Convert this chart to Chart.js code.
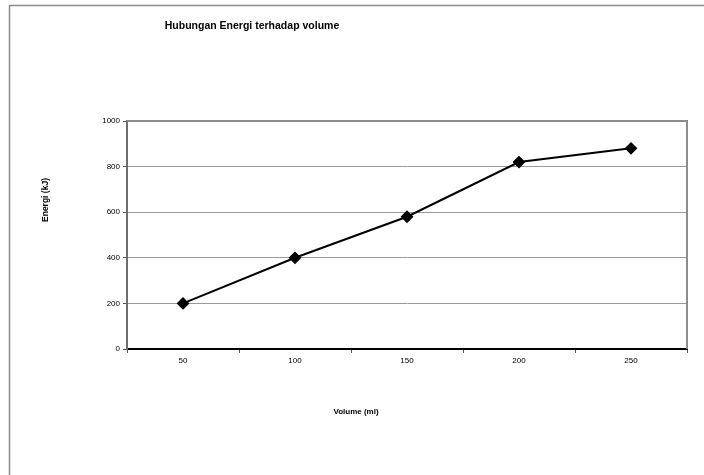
<!DOCTYPE html>
<html>
<head>
<meta charset="utf-8">
<script src="https://cdn.jsdelivr.net/npm/chart.js@4/dist/chart.umd.min.js"></script>
<style>
html,body{margin:0;padding:0;background:#fff;}
#wrap{width:704px;height:475px;position:relative;}
</style>
</head>
<body>
<div id="wrap"><canvas id="c" width="704" height="475"></canvas></div>
<script>
const volumes = ['50','100','150','200','250'];
const energi = [200, 400, 580, 820, 880];
const yTicks = [0, 200, 400, 600, 800, 1000];

const chartTitle = 'Hubungan Energi terhadap volume';
const xTitle = 'Volume (ml)';
const yTitle = 'Energi (kJ)';

const FONT = '"Liberation Sans", Arial, sans-serif';

// outer frame + plot border + titles, Excel style
const frame = {
    id:'frame',
    beforeDraw(chart){
        const c=chart.ctx;
        c.save();
        c.fillStyle='#fff';
        c.fillRect(0,0,chart.width,chart.height);
        c.strokeStyle='#8c8c8c';
        c.lineWidth=1.5;
        c.strokeRect(9.5,5.5,chart.width+20,chart.height+20);
        c.restore();
    },
    afterDraw(chart){
        const c=chart.ctx, a=chart.chartArea;
        c.save();
        c.strokeStyle='#8c8c8c';
        c.lineWidth=2;
        c.beginPath();
        c.moveTo(a.left,a.top); c.lineTo(a.right,a.top); c.lineTo(a.right,a.bottom);
        c.stroke();
        c.fillStyle='#000';
        c.textAlign='center'; c.textBaseline='middle';
        c.font='bold 10.5px '+FONT;
        c.fillText(chartTitle,252,26);
        c.font='bold 8px '+FONT;
        c.fillText(xTitle,356,412);
        c.font='bold 8.5px '+FONT;
        c.translate(46,200); c.rotate(-Math.PI/2);
        c.fillText(yTitle,0,0);
        c.restore();
    }
};

new Chart(document.getElementById('c'),{
    type:'line',
    data:{labels:volumes,datasets:[{
        data:energi,
        borderColor:'#000',borderWidth:2,
        backgroundColor:'#000',
        pointStyle:'rectRot',pointRadius:5,pointHoverRadius:5,
        pointBackgroundColor:'#000',pointBorderColor:'#000',
        tension:0
    }]},
    options:{
        responsive:false,animation:false,
        layout:{padding:{left:0,right:17,top:121,bottom:0}},
        plugins:{legend:{display:false},title:{display:false},tooltip:{enabled:false}},
        scales:{
            x:{
                offset:true,
                grid:{offset:true,drawOnChartArea:false,tickLength:4,tickColor:'#555'},
                border:{color:'#000',width:2},
                ticks:{color:'#000',font:{family:FONT,size:8},padding:3,maxRotation:0},
                afterFit(s){ s.height=126; }
            },
            y:{
                min:0,max:1000,
                afterBuildTicks(s){ s.ticks=yTicks.map(v=>({value:v})); },
                grid:{color:'#9a9a9a',lineWidth:1,tickLength:4,tickColor:'#555'},
                border:{color:'#6e6e6e',width:2},
                ticks:{color:'#000',font:{family:FONT,size:8},padding:3,callback:v=>String(v)},
                afterFit(s){ s.width=127; }
            }
        }
    },
    plugins:[frame]
});
</script>
</body>
</html>
